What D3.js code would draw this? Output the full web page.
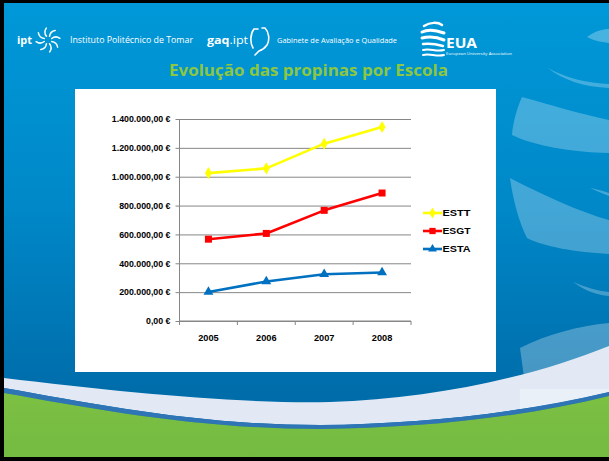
<!DOCTYPE html>
<html><head><meta charset="utf-8">
<script src="https://cdn.jsdelivr.net/npm/d3@7"></script>
<style>html,body{margin:0;padding:0;background:#000;overflow:hidden;} svg{display:block;}</style>
</head><body>
<script>
// ---- data ----
const years = ["2005", "2006", "2007", "2008"];
const seriesNames = ["ESTT", "ESGT", "ESTA"];
const esttValues = [1025000, 1058000, 1229000, 1345000];
const esgtValues = [567000, 607000, 767000, 887000];
const estaValues = [201000, 274000, 324000, 336000];
const yTickValues = [0, 200000, 400000, 600000, 800000, 1000000, 1200000, 1400000];
const titleText = "Evolução das propinas por Escola";

const seriesColors = ["#ffff00", "#ff0000", "#0070c0"];
const seriesSymbols = [d3.symbolDiamond, d3.symbolSquare, d3.symbolTriangle];
const seriesSymbolSizes = [42, 49, 42];
const seriesValues = [esttValues, esgtValues, estaValues];

const W = 609, H = 461;
const svg = d3.select("body").append("svg").attr("width", W).attr("height", H);

// ---- slide background ----
const defs = svg.append("defs");
const bg = defs.append("linearGradient").attr("id", "bg").attr("x1", 0).attr("y1", 0).attr("x2", 0).attr("y2", 1);
bg.append("stop").attr("offset", "0%").attr("stop-color", "#0098d8");
bg.append("stop").attr("offset", "45%").attr("stop-color", "#0088c8");
bg.append("stop").attr("offset", "85%").attr("stop-color", "#006dab");
bg.append("stop").attr("offset", "100%").attr("stop-color", "#006aa8");
const gr = defs.append("linearGradient").attr("id", "gr").attr("x1", 0).attr("y1", 0).attr("x2", 0).attr("y2", 1);
gr.append("stop").attr("offset", "0%").attr("stop-color", "#7cc043");
gr.append("stop").attr("offset", "100%").attr("stop-color", "#74bb42");

svg.append("rect").attr("width", W).attr("height", H).attr("fill", "#000");
svg.append("rect").attr("x", 4).attr("y", 3).attr("width", W - 4).attr("height", 454).attr("fill", "url(#bg)");

// decorative translucent swooshes on the right
const deco = svg.append("g").attr("fill", "#ffffff");
deco.append("path").attr("opacity", 0.28)
  .attr("d", "M587,37 C595,31 603,29 609,29 L609,43 C600,42 592,40 587,37 Z");
deco.append("path").attr("opacity", 0.26)
  .attr("d", "M548,68 C565,78 588,83 609,84 L609,88 C585,87 562,80 548,68 Z");
deco.append("path").attr("opacity", 0.26)
  .attr("d", "M522,97 C548,104 580,114 609,120 L609,153 C570,152 535,146 512,135 C513,122 517,108 522,97 Z");
deco.append("path").attr("opacity", 0.26)
  .attr("d", "M590,188 C597,189 603,191 609,193 L609,196 C602,193 596,191 590,188 Z");
deco.append("path").attr("opacity", 0.26)
  .attr("d", "M510,178 C545,196 580,212 609,220 L609,254 C575,252 545,247 527,238 C519,222 513,200 510,178 Z");
deco.append("path").attr("opacity", 0.26)
  .attr("d", "M573,282 C585,287 597,291 609,292 L609,296 C596,295 584,290 573,282 Z");
deco.append("path").attr("opacity", 0.28)
  .attr("d", "M520,348 C548,334 578,326 609,323 L609,372 C580,375 548,384 526,392 Z");

// bottom white band + blue line + green
svg.append("path").attr("fill", "#e2e9f5")
  .attr("d", "M4,378 C120,392 240,404 330,402 C430,399 530,378 609,346 L609,392 C520,413 420,424 320,425 C200,425 100,405 4,388 Z");
svg.append("path").attr("fill", "#eef2fa").attr("opacity", 0.7)
  .attr("d", "M520,389 L609,389 L609,392 C580,399 550,405 520,409 Z");
svg.append("path").attr("fill", "#2f74b5")
  .attr("d", "M4,388 C100,405 200,425 320,425 C420,424 520,413 609,392 L609,396 C520,418 420,428 320,429 C200,429 100,410 4,393 Z");
svg.append("path").attr("fill", "url(#gr)")
  .attr("d", "M4,393 C100,410 200,429 320,429 C420,428 520,418 609,396 L609,457 L4,457 Z");

// ---- header ----
const head = svg.append("g").attr("fill", "#ffffff");
head.append("text").attr("x", 17).attr("y", 44).attr("font-family", "Open Sans").attr("font-weight", "bold")
  .attr("font-size", 10.5).attr("textLength", 15).attr("lengthAdjust", "spacingAndGlyphs").text("ipt");
// ipt starburst
const star = svg.append("g").attr("transform", "translate(48,40)").attr("stroke", "#fff").attr("fill", "none")
  .attr("stroke-width", 1.5).attr("stroke-linecap", "round");
d3.range(8).forEach(i => {
  const a = (i * 45 + 22.5) * Math.PI / 180;
  const r0 = 4, r1 = 12;
  const xa = r0 * Math.cos(a), ya = r0 * Math.sin(a);
  const xb = r1 * Math.cos(a + 0.25), yb = r1 * Math.sin(a + 0.25);
  const cx = 9 * Math.cos(a - 0.15), cy = 9 * Math.sin(a - 0.15);
  star.append("path").attr("d", `M${xa},${ya} Q${cx},${cy} ${xb},${yb}`);
});
head.append("text").attr("x", 70).attr("y", 43).attr("font-family", "Open Sans")
  .attr("font-size", 8.5).attr("textLength", 123).attr("lengthAdjust", "spacingAndGlyphs").text("Instituto Politécnico de Tomar");
const gaq = head.append("text").attr("x", 207).attr("y", 44).attr("font-family", "Open Sans")
  .attr("font-size", 10.5).attr("textLength", 41).attr("lengthAdjust", "spacingAndGlyphs");
gaq.append("tspan").attr("font-weight", "bold").text("gaq");
gaq.append("tspan").text(".ipt");
const br = svg.append("g").attr("stroke", "#fff").attr("fill", "none").attr("stroke-width", 1.6).attr("stroke-linecap", "round");
br.append("path").attr("d", "M258,29 L254,29 C250,34 250,43 253,48");
br.append("path").attr("d", "M262,28 L265,28 C269,32 270,40 267,45 C265,48 262,50 259,51 L255,55");
head.append("text").attr("x", 277).attr("y", 43).attr("font-family", "Open Sans")
  .attr("font-size", 7.8).attr("textLength", 120).attr("lengthAdjust", "spacingAndGlyphs").text("Gabinete de Avaliação e Qualidade");
// EUA logo
const eua = svg.append("g").attr("stroke", "#fff").attr("fill", "none").attr("stroke-linecap", "round");
eua.append("path").attr("stroke-width", 2.5).attr("d", "M424,26 C430,22 438,22 442,25");
eua.append("path").attr("stroke-width", 3).attr("d", "M422,32 C428,29 436,30 444,33");
eua.append("path").attr("stroke-width", 3).attr("d", "M422,38 C430,36 437,37 444,40");
eua.append("path").attr("stroke-width", 2.5).attr("d", "M423,44 C430,43 436,44 443,46");
eua.append("path").attr("stroke-width", 2).attr("d", "M423,50 C430,48 436,52 444,50");
eua.append("path").attr("stroke-width", 2).attr("d", "M423,55 C430,53 436,57 444,55");
head.append("text").attr("x", 446).attr("y", 48).attr("font-family", "Open Sans").attr("font-weight", "bold")
  .attr("font-size", 15).attr("textLength", 31).attr("lengthAdjust", "spacingAndGlyphs").text("EUA");
head.append("text").attr("x", 446).attr("y", 54.5).attr("font-family", "Open Sans")
  .attr("font-size", 3.2).attr("textLength", 66).attr("lengthAdjust", "spacingAndGlyphs").text("European University Association");

// title
svg.append("text").attr("x", 169).attr("y", 75.5).attr("font-family", "Open Sans").attr("font-weight", "bold")
  .attr("font-size", 16).attr("fill", "#8dc641").attr("textLength", 279).attr("lengthAdjust", "spacingAndGlyphs")
  .text(titleText);

// ---- chart box ----
svg.append("rect").attr("x", 75).attr("y", 89).attr("width", 421).attr("height", 283).attr("fill", "#ffffff");

const x0 = 179.5, x1 = 411, yBottom = 321, yTop = 119;
const x = d3.scaleBand().domain(years).range([x0, x1]).padding(0);
const y = d3.scaleLinear().domain([0, 1400000]).range([yBottom, yTop]);

const locale = d3.formatLocale({decimal: ",", thousands: ".", grouping: [3], currency: ["", " €"]});
const fmt = locale.format("$,.2f");

const grid = "#868686";
// gridlines
const gGrid = svg.append("g").attr("transform", `translate(${x0},0)`)
  .call(d3.axisLeft(y).tickValues(yTickValues).tickSize(-(x1 - x0)).tickFormat(""));
gGrid.select(".domain").remove();
gGrid.selectAll("line").attr("stroke", grid).attr("stroke-width", 1);

// y axis with labels
const gY = svg.append("g").attr("transform", `translate(${x0},0)`)
  .call(d3.axisLeft(y).tickValues(yTickValues).tickSize(4).tickPadding(5).tickFormat(fmt));
gY.select(".domain").attr("stroke", grid).attr("d", `M0,${yBottom}V${yTop}`);
gY.selectAll("line").attr("stroke", grid);
gY.selectAll("text").attr("font-family", "Liberation Sans").attr("font-weight", "bold")
  .attr("font-size", 8.8).attr("fill", "#000");

// x axis
const gX = svg.append("g").attr("transform", `translate(0,${yBottom})`)
  .call(d3.axisBottom(x).tickSize(0).tickPadding(13));
gX.select(".domain").attr("stroke", grid).attr("d", `M${x0},0H${x1}`);
gX.selectAll("text").attr("font-family", "Liberation Sans").attr("font-weight", "bold")
  .attr("font-size", 9.2).attr("fill", "#000");
const boundaries = years.map(yr => x(yr)).concat([x.range()[1]]);
gX.selectAll(".bound").data(boundaries).join("line").attr("class", "bound")
  .attr("x1", d => d).attr("x2", d => d).attr("y1", 0).attr("y2", 4).attr("stroke", grid);

// series
const line = d3.line().x((d, i) => x(years[i]) + x.bandwidth() / 2).y(d => y(d));
seriesValues.forEach((vals, si) => {
  const g = svg.append("g");
  g.append("path").datum(vals).attr("d", line).attr("fill", "none")
    .attr("stroke", seriesColors[si]).attr("stroke-width", 2.6).attr("stroke-linejoin", "round");
  g.selectAll("path.m").data(vals).join("path").attr("class", "m")
    .attr("transform", (d, i) => `translate(${x(years[i]) + x.bandwidth() / 2},${y(d)})`)
    .attr("d", d3.symbol().type(seriesSymbols[si]).size(seriesSymbolSizes[si]))
    .attr("fill", seriesColors[si]);
});

// legend
const legY = [213, 231, 249];
seriesNames.forEach((name, si) => {
  const g = svg.append("g").attr("transform", `translate(423,${legY[si]})`);
  g.append("line").attr("x1", 0).attr("x2", 19).attr("stroke", seriesColors[si]).attr("stroke-width", 2.6);
  g.append("path").attr("transform", "translate(9.5,0)")
    .attr("d", d3.symbol().type(seriesSymbols[si]).size(seriesSymbolSizes[si] * 0.8)).attr("fill", seriesColors[si]);
  g.append("text").attr("x", 19.5).attr("y", 3.2).attr("font-family", "Liberation Sans").attr("font-weight", "bold")
    .attr("font-size", 9).attr("textLength", 28).attr("lengthAdjust", "spacingAndGlyphs").attr("fill", "#000").text(name);
});
</script>
</body></html>
